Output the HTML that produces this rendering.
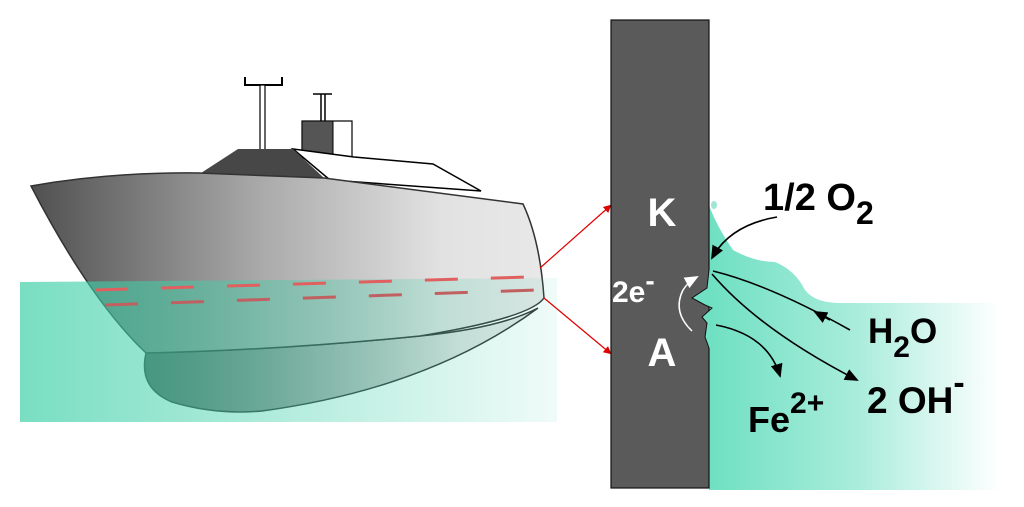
<!DOCTYPE html>
<html><head><meta charset="utf-8"><style>
html,body{margin:0;padding:0;background:#fff;width:1024px;height:507px;overflow:hidden}
text{font-family:"Liberation Sans",Arial,sans-serif;font-weight:bold}
</style></head><body>
<svg width="1024" height="507" viewBox="0 0 1024 507" xmlns="http://www.w3.org/2000/svg">
<defs>
<linearGradient id="hull" x1="0" x2="1" y1="0" y2="0">
<stop offset="0" stop-color="#505050"/><stop offset="0.45" stop-color="#aaaaaa"/><stop offset="0.8" stop-color="#e2e2e2"/><stop offset="1" stop-color="#e8e8e8"/></linearGradient>
<linearGradient id="water" x1="0" x2="1" y1="0" y2="0">
<stop offset="0" stop-color="#3fd0a8" stop-opacity="0.7"/><stop offset="1" stop-color="#3fd0a8" stop-opacity="0.08"/></linearGradient>
<linearGradient id="water2" x1="0" x2="1" y1="0" y2="0">
<stop offset="0" stop-color="#6fe0c2"/><stop offset="0.5" stop-color="#a8ecdb"/><stop offset="1" stop-color="#ffffff"/></linearGradient>
<marker id="ar" markerWidth="8" markerHeight="8" refX="6" refY="4" orient="auto" markerUnits="userSpaceOnUse"><path d="M0,0 L8,4 L0,8z" fill="#e00000"/></marker>
<marker id="bk" markerWidth="14" markerHeight="12" refX="12" refY="6" orient="auto" markerUnits="userSpaceOnUse"><path d="M0,0 L14,6 L0,12z" fill="#000"/></marker>
<marker id="wh" markerWidth="14" markerHeight="12" refX="12" refY="6" orient="auto" markerUnits="userSpaceOnUse"><path d="M0,0 L14,6 L0,12z" fill="#fff"/></marker>
</defs>
<path d="M245,77 V85 H282 V77" fill="none" stroke="#000" stroke-width="2"/>
<rect x="260" y="85" width="5" height="65" fill="#fff" stroke="#000" stroke-width="1.2"/>
<path d="M313,94 H332 M321,94 V121 M325,94 V121" fill="none" stroke="#000" stroke-width="1.5"/>
<rect x="302" y="121" width="50" height="37" fill="#fff" stroke="#000" stroke-width="1.2"/>
<rect x="302" y="121" width="31" height="37" fill="#555" stroke="#000" stroke-width="1"/>
<path d="M293,149 L354,157 L433,164 L481,191 L330,180 Z" fill="#fff" stroke="#000" stroke-width="1.5"/>
<path d="M201,173 L238,149 L293,149 L324,178 Z" fill="#474747"/>
<path d="M146,353 Q138,388 172,402 Q215,415 262,411 Q430,388 538,308 Q500,328 420,336 Q280,350 146,353Z" fill="url(#hull)" stroke="#333" stroke-width="1.5"/>
<path d="M31,186 Q110,172 199,173 L324,178 L523,204 Q540,240 544,298 Q530,318 420,336 Q280,350 146,353 Q90,300 31,186 Z" fill="url(#hull)" stroke="#333" stroke-width="1.5"/>
<path d="M20,282 L557,278 L557,422 L20,422 Z" fill="url(#water)"/>
<path d="M95,290 L530,277" stroke="#e06060" stroke-width="3" stroke-dasharray="33,33" fill="none"/>
<path d="M105,305 L537,290" stroke="#c06060" stroke-width="3" stroke-dasharray="33,33" fill="none"/>
<line x1="540" y1="268" x2="610" y2="206" stroke="#e00000" stroke-width="1.2" marker-end="url(#ar)"/>
<line x1="544" y1="298" x2="610" y2="353" stroke="#e00000" stroke-width="1.2" marker-end="url(#ar)"/>
<path d="M709,205 Q716,225 733,250 Q755,262 775,262 Q795,270 805,290 Q815,303 840,303 L1000,303 L1000,490 L709,490 Z" fill="url(#water2)"/>
<ellipse cx="714" cy="205" rx="3" ry="4" fill="#9fe6d6"/>
<rect x="611" y="20" width="98" height="468" fill="#5a5a5a" stroke="#111" stroke-width="1.2"/>
<path d="M709,270 L707,288 L692,298 L705,305 L712,308 L702,317 L707,323 L705,337 L709,348 L713,348 L713,270Z" fill="#6fe0c2"/>
<path d="M709,270 L707,288 L692,298 L705,305 L712,308 L702,317 L707,323 L705,337 L709,348" fill="none" stroke="#111" stroke-width="1"/>
<text x="662" y="226" font-size="40" fill="#fff" text-anchor="middle">K</text>
<text x="662" y="366" font-size="40" fill="#fff" text-anchor="middle">A</text>
<text x="612" y="302" font-size="30" fill="#fff">2e<tspan dy="-12" font-size="28">-</tspan></text>
<path d="M692,331 Q672,312 683,290 Q688,282 697,277" fill="none" stroke="#fff" stroke-width="1.5" marker-end="url(#wh)"/>
<text x="763" y="210" font-size="38" fill="#000">1/2 O<tspan dy="14" font-size="32">2</tspan></text>
<text x="868" y="343" font-size="35" fill="#000">H<tspan dy="14" font-size="30">2</tspan><tspan dy="-14">O</tspan></text>
<text x="867" y="413" font-size="37" fill="#000">2 OH<tspan dy="-19" font-size="34">-</tspan></text>
<text x="748" y="432" font-size="36" fill="#000">Fe<tspan dy="-19" font-size="30">2+</tspan></text>
<path d="M777,217 Q730,225 712,258" fill="none" stroke="#000" stroke-width="1.6" marker-end="url(#bk)"/>
<path d="M850,330 Q770,285 713,271" fill="none" stroke="#000" stroke-width="1.6"/>
<path d="M830,320 L815,312" stroke="#000" stroke-width="1.6" marker-end="url(#bk)"/>
<path d="M712,274 Q760,330 857,380" fill="none" stroke="#000" stroke-width="1.6" marker-end="url(#bk)"/>
<path d="M716,325 Q768,335 780,376" fill="none" stroke="#000" stroke-width="1.6" marker-end="url(#bk)"/>
</svg>
</body></html>
